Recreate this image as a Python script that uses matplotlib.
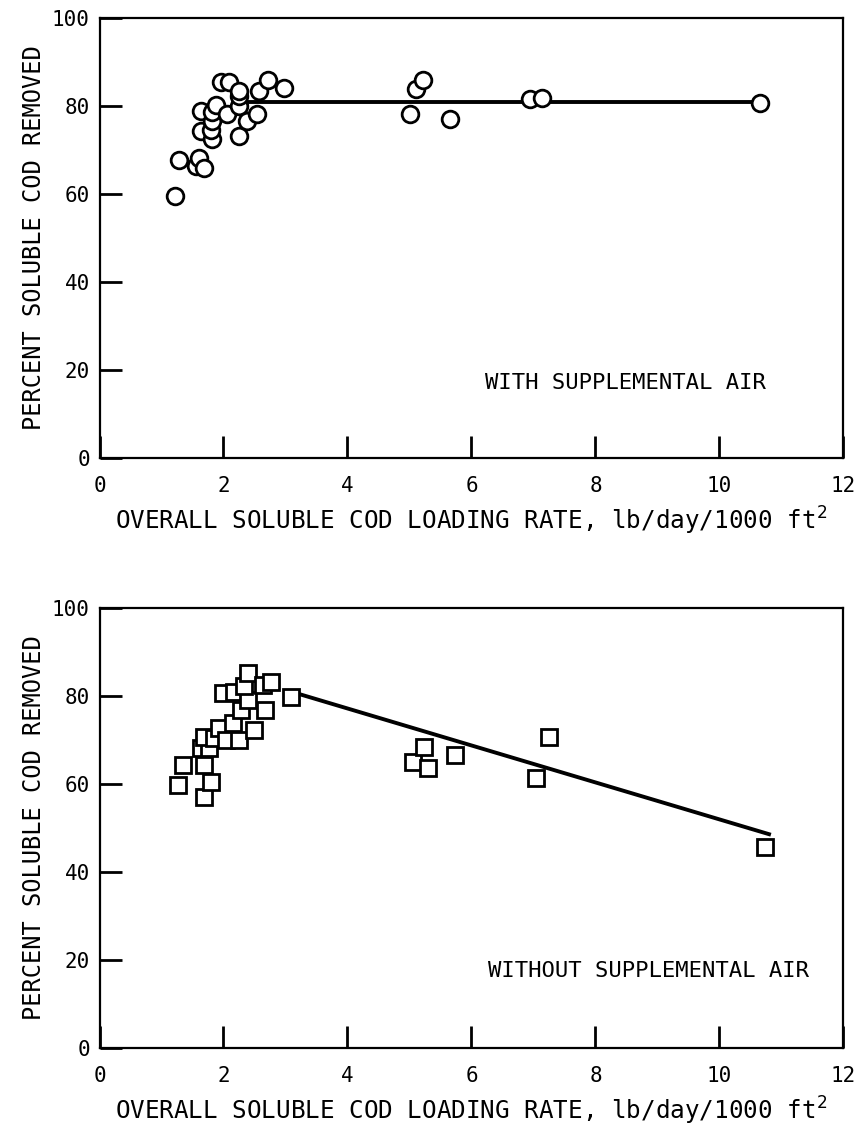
import numpy as np
import matplotlib
matplotlib.use('Agg')
import matplotlib.pyplot as plt

# Data (x = lb/day/1000 ft2, y = percent removed)
with_air_x = [1.21, 1.29, 1.56, 1.61, 1.69, 1.64, 1.64, 1.82, 1.80, 1.82, 1.82, 1.88,
              1.96, 2.09, 2.06, 2.25, 2.25, 2.25, 2.25, 2.38, 2.54, 2.58, 2.71, 2.98,
              5.01, 5.10, 5.22, 5.66, 6.95, 7.14, 10.66]
with_air_y = [59.5, 67.8, 66.3, 68.2, 65.9, 74.3, 78.8, 72.4, 74.6, 76.5, 78.7, 80.3,
              85.4, 85.4, 78.1, 73.1, 80.0, 82.2, 83.4, 76.5, 78.1, 83.4, 86.0, 84.0,
              78.1, 83.8, 86.0, 77.1, 81.5, 81.9, 80.7]
with_fit_x = [2.4, 10.66]
with_fit_y = [81.0, 81.0]

without_air_x = [1.26, 1.34, 1.69, 1.64, 1.77, 1.80, 1.69, 1.69, 1.85, 1.93, 2.04, 2.25,
                 1.99, 2.17, 2.15, 2.28, 2.39, 2.33, 2.39, 2.50, 2.63, 2.67, 2.76, 3.09,
                 5.05, 5.23, 5.30, 5.74, 7.04, 7.25, 10.74]
without_air_y = [59.8, 64.3, 57.1, 68.1, 68.1, 60.5, 64.3, 70.8, 70.4, 72.7, 70.0, 70.0,
                 80.6, 81.0, 73.8, 76.8, 79.1, 82.2, 85.2, 72.3, 82.5, 76.8, 83.3, 79.7,
                 64.9, 68.5, 63.7, 66.6, 61.4, 70.6, 45.7]
without_fit_x = [3.09, 10.8]
without_fit_y = [81.0, 48.6]

x_ticks = [0, 2, 4, 6, 8, 10, 12]
y_ticks = [0, 20, 40, 60, 80, 100]

plt.rcParams['font.family'] = 'DejaVu Sans Mono'

fig = plt.figure(figsize=(8.63, 11.41), dpi=100)
ax1 = fig.add_axes([0.1153, 0.5986, 0.862, 0.3856])
ax2 = fig.add_axes([0.1153, 0.0815, 0.862, 0.3856])

panels = [
    (ax1, with_air_x, with_air_y, with_fit_x, with_fit_y, 'o', 12, 'WITH SUPPLEMENTAL AIR', 8.49, 17.0),
    (ax2, without_air_x, without_air_y, without_fit_x, without_fit_y, 's', 11, 'WITHOUT SUPPLEMENTAL AIR', 8.86, 17.5),
]

for ax, xs, ys, fx, fy, mk, ms, label, tx, ty in panels:
    ax.plot(fx, fy, color='black', lw=2.8, zorder=2)
    ax.plot(xs, ys, linestyle='none', marker=mk, markersize=ms,
            markerfacecolor='white', markeredgecolor='black', markeredgewidth=2.0, zorder=3)
    ax.set_xlim(0, 12)
    ax.set_ylim(0, 100)
    ax.set_xticks(x_ticks)
    ax.set_yticks(y_ticks)
    ax.tick_params(direction='in', length=16, width=2, labelsize=15)
    ax.tick_params(axis='y', pad=7)
    ax.tick_params(axis='x', pad=13)
    for s in ax.spines.values():
        s.set_linewidth(1.6)
    ax.set_ylabel('PERCENT SOLUBLE COD REMOVED', fontsize=17)
    ax.set_xlabel('OVERALL SOLUBLE COD LOADING RATE, lb/day/1000 ft$^2$', fontsize=17.5, labelpad=6)
    ax.text(tx, ty, label, fontsize=16, ha='center', va='center')

fig.savefig('out.png', dpi=100)
